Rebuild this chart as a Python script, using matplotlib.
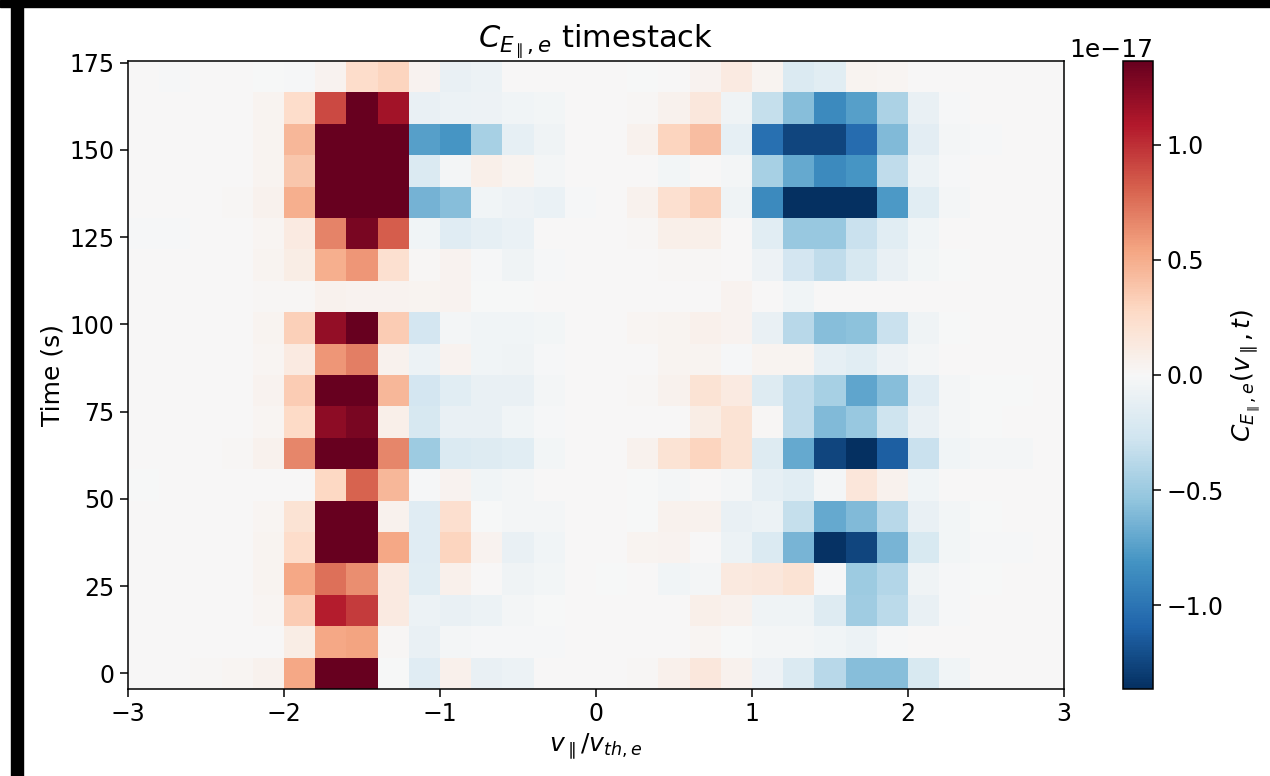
import numpy as np
import matplotlib
matplotlib.use("Agg")
import matplotlib.pyplot as plt
from matplotlib.patches import Rectangle

# velocity bin centres (v_par / v_th,e) and time samples (s)
v_centres = np.linspace(-2.9, 2.9, 30)
times = np.arange(20) * 9

# field-particle correlation, units of 1e-17, one row per time (t = 0 first)
corr = np.array([
    [0, 0, 0.02, 0.03, 0.06, 0.53, 1.5, 1.5, -0.01, -0.17, 0.07, -0.1, -0.08, 0, 0, 0, 0.02, 0.07, 0.15, 0.06, -0.07, -0.2, -0.38, -0.58, -0.58, -0.22, -0.05, 0, 0, 0],
    [0, 0, 0, 0, 0, 0.1, 0.53, 0.55, 0.02, -0.1, -0.03, -0.02, -0.02, -0.02, 0, 0, 0, 0.01, 0.03, -0.01, -0.03, -0.03, -0.05, -0.08, -0.02, 0, 0, 0, 0.01, 0],
    [0, 0, 0, 0, 0.03, 0.35, 1.07, 0.95, 0.12, -0.08, -0.1, -0.08, -0.03, -0.01, 0, 0, 0, 0, 0.08, 0.06, -0.06, -0.06, -0.18, -0.48, -0.37, -0.1, -0.02, 0, 0, 0],
    [0, 0, 0, 0, 0.04, 0.53, 0.75, 0.63, 0.12, -0.15, 0.07, 0, -0.06, -0.04, 0, -0.01, 0, -0.05, -0.03, 0.13, 0.15, 0.2, -0.02, -0.5, -0.4, -0.06, -0.02, -0.01, 0, 0.01],
    [0, 0, 0, 0, 0.04, 0.25, 1.5, 1.5, 0.53, -0.17, 0.3, 0.05, -0.1, -0.05, 0, 0, 0.04, 0.05, 0.01, -0.08, -0.2, -0.63, -1.35, -1.25, -0.63, -0.22, -0.04, -0.02, -0.02, 0],
    [0, 0, 0, 0, 0.03, 0.2, 1.5, 1.5, 0.06, -0.17, 0.23, -0.01, -0.03, -0.03, 0, 0, -0.01, 0.06, 0.06, -0.1, -0.08, -0.32, -0.7, -0.6, -0.38, -0.1, -0.04, -0.01, 0, 0],
    [-0.01, 0, 0, 0, 0, 0, 0.28, 0.8, 0.45, -0.02, 0.05, -0.05, -0.03, 0, 0, 0, -0.01, -0.03, 0.01, -0.03, -0.12, -0.15, -0.03, 0.17, 0.06, -0.05, 0, 0, 0, 0],
    [0, 0, 0, 0.02, 0.06, 0.67, 1.5, 1.5, 0.67, -0.5, -0.2, -0.18, -0.15, -0.04, 0, 0, 0.06, 0.2, 0.3, 0.2, -0.18, -0.7, -1.25, -1.4, -1.12, -0.3, -0.05, -0.03, -0.03, 0],
    [0, 0, 0, 0, 0.03, 0.27, 1.22, 1.3, 0.08, -0.23, -0.1, -0.1, -0.05, -0.02, 0, 0, 0.01, 0.01, 0.1, 0.2, 0.02, -0.35, -0.6, -0.52, -0.28, -0.1, -0.03, -0.01, 0, 0.01],
    [0, 0, 0, 0, 0.05, 0.35, 1.5, 1.5, 0.45, -0.25, -0.15, -0.1, -0.1, -0.03, 0, 0, 0.02, 0.06, 0.2, 0.12, -0.18, -0.35, -0.45, -0.72, -0.58, -0.17, -0.03, -0.01, -0.01, 0.01],
    [0, 0, 0, 0, 0.03, 0.12, 0.6, 0.7, 0.06, -0.08, 0.05, -0.05, -0.06, -0.02, 0, 0, 0.01, 0.04, 0.04, -0.02, 0.04, 0.04, -0.12, -0.15, -0.07, -0.03, 0, 0, 0, 0],
    [0, 0, 0, 0, 0.04, 0.33, 1.2, 1.5, 0.35, -0.25, -0.03, -0.05, -0.05, -0.04, 0, 0, 0.03, 0.04, 0.07, 0.05, -0.1, -0.38, -0.58, -0.56, -0.3, -0.06, -0.01, 0, 0, 0],
    [0, 0, 0, 0, 0.02, 0.02, 0.06, 0.05, 0.05, 0.04, 0.05, -0.01, -0.01, 0, 0.01, 0.01, 0.01, 0, 0, 0.05, 0, -0.05, 0, 0, 0, 0, 0, 0.01, 0.01, 0.01],
    [0, 0, 0, 0, 0.04, 0.1, 0.5, 0.6, 0.22, 0.02, 0.05, -0.02, -0.06, -0.02, 0, 0, 0.01, 0.02, 0.02, 0, -0.07, -0.25, -0.35, -0.23, -0.1, -0.04, -0.01, 0, 0, 0],
    [-0.02, -0.02, 0, 0, 0.03, 0.12, 0.68, 1.3, 0.83, -0.05, -0.17, -0.12, -0.09, 0, 0, 0, 0.02, 0.08, 0.08, 0.01, -0.15, -0.52, -0.52, -0.3, -0.15, -0.05, 0, 0, 0, 0],
    [0, 0, 0, 0.02, 0.06, 0.5, 1.5, 1.5, 1.5, -0.65, -0.58, -0.05, -0.07, -0.09, -0.02, 0, 0.06, 0.22, 0.33, -0.06, -0.87, -1.4, -1.4, -1.4, -0.78, -0.15, -0.03, 0, 0.01, 0.01],
    [0, 0, 0, 0, 0.04, 0.38, 1.5, 1.5, 1.5, -0.2, -0.03, 0.08, 0.04, -0.03, 0, 0, 0.01, -0.04, 0.01, -0.03, -0.45, -0.7, -0.87, -0.8, -0.35, -0.08, -0.02, 0, 0, 0],
    [0, 0, 0, 0, 0.04, 0.45, 1.5, 1.5, 1.5, -0.75, -0.8, -0.45, -0.12, -0.06, 0, 0, 0.06, 0.3, 0.42, -0.12, -1.03, -1.25, -1.25, -1.05, -0.6, -0.14, -0.03, -0.02, 0, 0],
    [0, 0, 0, 0, 0.04, 0.25, 0.9, 1.5, 1.15, -0.1, -0.08, -0.07, -0.05, -0.04, 0, 0, 0.02, 0.06, 0.15, -0.06, -0.33, -0.58, -0.87, -0.75, -0.43, -0.1, -0.02, 0, 0, 0],
    [0, -0.02, 0, 0, -0.01, -0.02, 0.05, 0.25, 0.3, 0.05, -0.1, -0.08, 0, 0, 0, 0, -0.01, 0, 0.05, 0.12, 0.04, -0.2, -0.15, 0.04, 0.03, 0, 0, 0, 0, 0],
]) * 1e-17

clim = 1.364e-17

plt.rcParams['font.size'] = 17
plt.rcParams['axes.linewidth'] = 1.1
plt.rcParams['xtick.major.width'] = 1.1
plt.rcParams['ytick.major.width'] = 1.1
plt.rcParams['xtick.major.size'] = 6
plt.rcParams['ytick.major.size'] = 6

fig = plt.figure(figsize=(12.7, 7.76), dpi=100)
ax = fig.add_axes([128 / 1270, 87 / 776, 936 / 1270, 628 / 776])
cax = fig.add_axes([1123 / 1270, 87 / 776, 30 / 1270, 628 / 776])

mesh = ax.pcolormesh(v_centres, times, corr, cmap='RdBu_r',
                     vmin=-clim, vmax=clim, shading='nearest')
ax.set_xlim(-3, 3)
ax.set_xticks([-3, -2, -1, 0, 1, 2, 3])
ax.set_yticks([0, 25, 50, 75, 100, 125, 150, 175])
ax.set_xlabel(r'$v_\parallel/v_{th,e}$', fontsize=18)
ax.set_ylabel('Time (s)', fontsize=18)
ax.set_title(r'$C_{E_\parallel,e}$ timestack', fontsize=22)

cb = fig.colorbar(mesh, cax=cax)
cb.set_label(r'$C_{E_\parallel,e}(v_\parallel,t)$', fontsize=18)
cb.set_ticks([-1e-17, -0.5e-17, 0, 0.5e-17, 1e-17])
cax.yaxis.get_offset_text().set_fontsize(18)

# screen-grab frame edges
fig.add_artist(Rectangle((0, 1 - 7 / 776), 1, 7 / 776, transform=fig.transFigure,
                         color='black', zorder=10))
fig.add_artist(Rectangle((11 / 1270, 0), 12 / 1270, 1, transform=fig.transFigure,
                         color='black', zorder=10))

fig.savefig('out.png', dpi=100)
